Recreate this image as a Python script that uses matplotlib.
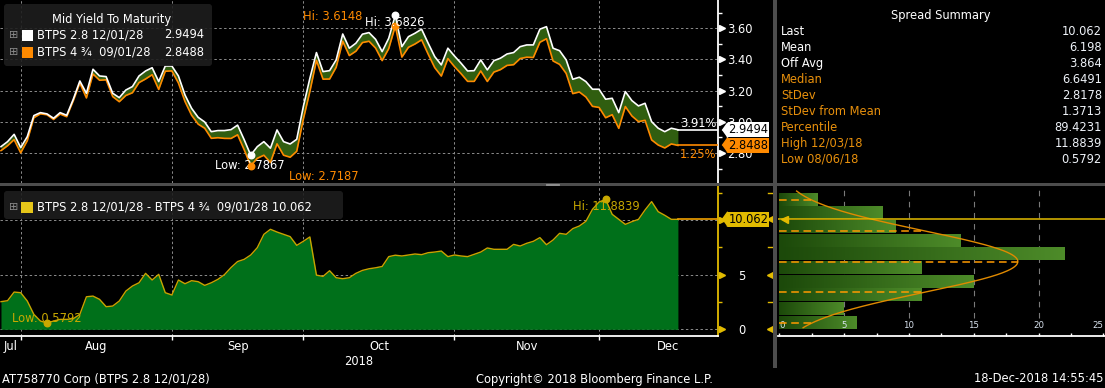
import numpy as np
import pandas as pd
import matplotlib
matplotlib.use("Agg")
import matplotlib.pyplot as plt
from matplotlib.colors import LinearSegmentedColormap
from matplotlib.patches import Rectangle, FancyBboxPatch

plt.rcParams["font.family"] = ["DejaVu Sans"]

W, H = 1105, 388
PT = 72 / 100  # points per pixel at dpi 100

# ---- data ----
dates = pd.bdate_range("2018-07-26", "2018-12-18")

# BTPS 2.8 12/01/28 mid yield
btps_dec28 = [
    2.841, 2.873, 2.920, 2.835, 2.905, 3.040, 3.059, 3.051, 3.023, 3.059,
    3.042, 3.145, 3.262, 3.183, 3.337, 3.294, 3.290, 3.183, 3.155, 3.204,
    3.226, 3.294, 3.326, 3.347, 3.258, 3.358, 3.358, 3.294, 3.172, 3.087,
    3.029, 2.999, 2.937, 2.944, 2.944, 2.950, 2.979, 2.886, 2.7867, 2.841,
    2.873, 2.831, 2.948, 2.873, 2.858, 2.888, 3.097, 3.279, 3.444, 3.322,
    3.328, 3.397, 3.563, 3.472, 3.504, 3.562, 3.572, 3.529, 3.450, 3.536,
    3.6826, 3.482, 3.546, 3.568, 3.594, 3.504, 3.418, 3.365, 3.472, 3.422,
    3.376, 3.326, 3.328, 3.397, 3.333, 3.392, 3.408, 3.435, 3.444, 3.482,
    3.493, 3.493, 3.594, 3.610, 3.472, 3.456, 3.397, 3.273, 3.286, 3.258,
    3.209, 3.209, 3.145, 3.151, 3.059, 3.194, 3.136, 3.102, 3.119, 3.001,
    2.959, 2.937, 2.959, 2.9494,
]

# spread BTPS 2.8 12/01/28 - BTPS 4 3/4 09/01/28, in bp
spread_bp = [
    2.53, 2.62, 3.41, 3.35, 2.59, 1.37, 0.76, 0.5792, 0.76, 0.91,
    0.91, 0.97, 1.37, 2.98, 3.04, 2.74, 2.07, 2.13, 2.59, 3.50,
    3.96, 4.26, 5.12, 4.51, 5.03, 3.35, 3.14, 4.51, 4.17, 4.45,
    4.36, 4.02, 4.26, 4.57, 5.00, 5.65, 6.20, 6.40, 6.80, 7.47,
    8.69, 9.15, 8.90, 8.69, 8.48, 7.68, 8.05, 8.45, 4.96, 4.84,
    5.36, 4.72, 4.63, 4.72, 5.12, 5.39, 5.54, 5.63, 5.75, 6.65,
    6.78, 6.71, 6.80, 6.89, 6.83, 7.01, 7.07, 7.16, 6.65, 6.80,
    6.71, 6.65, 6.86, 7.07, 7.44, 7.32, 7.32, 7.32, 7.77, 7.62,
    7.87, 8.05, 8.39, 7.74, 8.17, 8.78, 8.69, 9.21, 9.45, 9.88,
    10.98, 11.65, 11.8839, 10.52, 10.06, 9.60, 9.85, 10.06, 10.92, 11.68,
    10.76, 10.43, 10.06, 10.062,
]

# BTPS 4 3/4 09/01/28 = first bond minus the spread
btps_sep28 = list(np.round(np.array(btps_dec28) - np.array(spread_bp) / 100, 4))

pct_change = ["3.91%", "1.25%"]

bin_edges = [0, 1.25, 2.5, 3.75, 5, 6.25, 7.5, 8.75, 10, 11.25, 12.5]
bin_counts = [6, 5, 11, 15, 11, 22, 14, 9, 8, 3]
spread_mean = 6.198
spread_sd = 2.8178

summary_labels = ["Last", "Mean", "Off Avg", "Median", "StDev", "StDev from Mean",
                  "Percentile", "High 12/03/18", "Low 08/06/18"]
summary_values = ["10.062", "6.198", "3.864", "6.6491", "2.8178", "1.3713",
                  "89.4231", "11.8839", "0.5792"]

top_ticks = [2.8, 3.0, 3.2, 3.4, 3.6]
top_minor = [2.7, 2.9, 3.1, 3.3, 3.5, 3.7]
bot_ticks = [0, 5, 10]
bot_minor = [2.5, 7.5, 12.5]
hist_ticks = [0, 5, 10, 15, 20, 25]
hist_minor = [2.5, 7.5, 12.5, 17.5, 22.5]
month_names = ["Jul", "Aug", "Sep", "Oct", "Nov", "Dec"]

# ---- colours ----
WHITE = "#ffffff"
ORANGE = "#ff8a00"
BAND = "#305e10"
FILL = "#00701a"
YLINE = "#c9a400"
YELLOW = "#e2bb00"
LBL_OR = "#e8900c"
GRIDC = "#8c8c8c"
SEP = "#4d4d4d"
FS = 8.3

x = np.arange(len(dates))
xmin, xmax = -0.15, 109.1
months = dates.to_period("M")
month_end = [i for i in range(len(dates) - 1) if months[i] != months[i + 1]]
last_month_len = len(pd.bdate_range("2018-12-01", "2018-12-31"))
bounds = [xmin] + month_end + [month_end[-1] + last_month_len]
month_centers = [(a + b) / 2 for a, b in zip(bounds[:-1], bounds[1:])]

fig = plt.figure(figsize=(W / 100, H / 100), dpi=100, facecolor="black")


def px_axes(x0, y0, x1, y1):
    ax = fig.add_axes([x0 / W, 1 - y1 / H, (x1 - x0) / W, (y1 - y0) / H])
    ax.set_facecolor("black")
    for s in ax.spines.values():
        s.set_visible(False)
    return ax


def grid(ax, xs, ys):
    for v in xs:
        ax.axvline(v, color=GRIDC, lw=0.7, dashes=(2.5, 2.5), zorder=1)
    for v in ys:
        ax.axhline(v, color=GRIDC, lw=0.7, dashes=(2.5, 2.5), zorder=1)


def value_tag(ax, ax_w, val, text, fc, tc):
    # arrow shaped value label just right of the y axis
    ax.plot([1 + 9 / ax_w], [val], marker=[(-0.72, 0), (0, 1), (0, -1)], ms=14.6 * PT,
            color=fc, ls="none", transform=ax.get_yaxis_transform(), clip_on=False, zorder=7)
    ax.annotate(text, xy=(1, val), xycoords=("axes fraction", "data"),
                xytext=(10.5 * PT, 0), textcoords="offset points", ha="left", va="center",
                fontsize=FS, color=tc, annotation_clip=False, zorder=7,
                bbox=dict(boxstyle="square,pad=0.08", fc=fc, ec="none"))


def mark(ax, xi, val, label, color, dx, dy, ha):
    ax.plot([xi], [val], "o", ms=6.5 * PT, color=color, zorder=6, clip_on=False)
    ax.annotate(label, xy=(xi, val), xytext=(dx * PT, -dy * PT), textcoords="offset points",
                ha=ha, va="center", fontsize=FS, color=color, zorder=6, annotation_clip=False)


# ---------------- top panel: yields ----------------
ax_top = px_axes(0, 0, 718, 183)
ax_top.set_xlim(xmin, xmax)
ax_top.set_ylim(2.608, 3.781)
grid(ax_top, month_end, top_ticks)
ax_top.fill_between(x, btps_sep28, btps_dec28, color=BAND, lw=0, zorder=2)
ax_top.plot(x, btps_sep28, color=ORANGE, lw=1.2, zorder=3)
ax_top.plot(x, btps_dec28, color=WHITE, lw=1.2, zorder=4)
ax_top.plot([x[-1], xmax], [btps_dec28[-1]] * 2, color=WHITE, lw=1.2, zorder=4)
ax_top.plot([x[-1], xmax], [btps_sep28[-1]] * 2, color=ORANGE, lw=1.2, zorder=3)
ax_top.spines["right"].set_visible(True)
ax_top.spines["right"].set_color(WHITE)
ax_top.spines["right"].set_linewidth(1.3)
ax_top.set_xticks([])
ax_top.yaxis.tick_right()
ax_top.set_yticks(top_ticks)
ax_top.set_yticklabels([f"{t:.2f}" for t in top_ticks])
ax_top.set_yticks(top_minor, minor=True)
ax_top.tick_params(axis="y", which="major", length=0, pad=9 * PT, labelcolor=WHITE, labelsize=FS)
ax_top.tick_params(axis="y", which="minor", length=4 * PT, width=1, color=WHITE)
ax_top.plot([1 + 4 / 718] * len(top_ticks), top_ticks, ">", ms=6 * PT, color=WHITE,
            transform=ax_top.get_yaxis_transform(), clip_on=False)

i_hi = int(np.argmax(btps_dec28))
i_lo = int(np.argmin(btps_dec28))
mark(ax_top, i_hi, btps_sep28[i_hi], f"Hi: {max(btps_sep28):.4f}", ORANGE, -33, -9, "right")
mark(ax_top, i_hi, btps_dec28[i_hi], f"Hi: {max(btps_dec28):.4f}", WHITE, -1, 7.5, "center")
mark(ax_top, i_lo, btps_dec28[i_lo], f"Low: {min(btps_dec28):.4f}", WHITE, -1, 10.5, "center")
mark(ax_top, i_lo, btps_sep28[i_lo], f"Low: {min(btps_sep28):.4f}", ORANGE, 38, 11, "left")

ax_top.annotate(pct_change[0], xy=(1, btps_dec28[-1]), xycoords=("axes fraction", "data"),
                xytext=(-2 * PT, 6.5 * PT), textcoords="offset points", ha="right", va="center",
                fontsize=FS, color=WHITE, annotation_clip=False, zorder=6)
ax_top.annotate(pct_change[1], xy=(1, btps_sep28[-1]), xycoords=("axes fraction", "data"),
                xytext=(-2 * PT, -9 * PT), textcoords="offset points", ha="right", va="center",
                fontsize=FS, color=ORANGE, annotation_clip=False, zorder=6)
value_tag(ax_top, 718, btps_dec28[-1], f"{btps_dec28[-1]:.4f}", WHITE, "black")
value_tag(ax_top, 718, btps_sep28[-1], f"{btps_sep28[-1]:.4f}", ORANGE, "black")

# ---------------- bottom panel: spread ----------------
ax_bot = px_axes(0, 186, 718, 336)
ax_bot.set_xlim(xmin, xmax)
ax_bot.set_ylim(-0.61, 13.11)
grid(ax_bot, month_end, bot_ticks)
ax_bot.fill_between(x, 0, spread_bp, color=FILL, lw=0, zorder=2)
ax_bot.plot(x, spread_bp, color=YLINE, lw=1.0, zorder=3)
ax_bot.plot([x[-1], xmax], [spread_bp[-1]] * 2, color="#f0a000", lw=1.2, zorder=3)
ax_bot.spines["bottom"].set_visible(True)
ax_bot.spines["bottom"].set_color(WHITE)
ax_bot.spines["bottom"].set_linewidth(1.3)
ax_bot.spines["right"].set_visible(True)
ax_bot.spines["right"].set_color(YELLOW)
ax_bot.spines["right"].set_linewidth(1.3)
ax_bot.set_xticks(month_end)
ax_bot.set_xticklabels([])
ax_bot.set_xticks(month_centers, minor=True)
ax_bot.set_xticklabels(month_names, minor=True)
ax_bot.tick_params(axis="x", which="major", length=4 * PT, width=1, color=WHITE)
ax_bot.tick_params(axis="x", which="minor", length=0, pad=4 * PT, labelcolor=WHITE, labelsize=FS)
ax_bot.yaxis.tick_right()
ax_bot.set_yticks(bot_ticks)
# the "10" label sits under the last-value tag, as on the screen
ax_bot.set_yticklabels([str(t) if t < 10 else "" for t in bot_ticks])
ax_bot.set_yticks(bot_minor, minor=True)
ax_bot.tick_params(axis="y", which="major", length=0, pad=20 * PT, labelcolor=WHITE, labelsize=FS)
ax_bot.tick_params(axis="y", which="minor", length=4 * PT, width=1, color=YELLOW)
ax_bot.plot([1 + 4 / 718] * len(bot_ticks), bot_ticks, ">", ms=6 * PT, color=YELLOW,
            transform=ax_bot.get_yaxis_transform(), clip_on=False)

s_lo = int(np.argmin(spread_bp))
s_hi = int(np.argmax(spread_bp))
mark(ax_bot, s_lo, spread_bp[s_lo], f"Low: {min(spread_bp):.4f}", "#c8a800", 0, -4.5, "center")
mark(ax_bot, s_hi, spread_bp[s_hi], f"Hi: {max(spread_bp):.4f}", "#c8a800", 1, 7.3, "center")
value_tag(ax_bot, 718, spread_bp[-1], f"{spread_bp[-1]:.3f}", YELLOW, "black")

# ---------------- histogram of the spread ----------------
ax_h = px_axes(778, 186, 1105, 336)
cmap = LinearSegmentedColormap.from_list("bars", ["#1c490a", "#4d8b29"])
grad = np.linspace(0, 1, 64).reshape(1, -1)
for lo, hi, c in zip(bin_edges[:-1], bin_edges[1:], bin_counts):
    ax_h.imshow(grad, extent=[0, c, lo + 0.05, hi - 0.05], cmap=cmap, aspect="auto",
                interpolation="bilinear", zorder=2)
ax_h.set_xlim(-0.1, 25.13)
ax_h.set_ylim(-0.61, 13.11)
ax_h.vlines(hist_ticks[1:-1], 1.0, 13.11, color="#7a7a7a", lw=0.8,
            linestyles=[(0, (5, 5))], zorder=1)

bw = bin_edges[1] - bin_edges[0]
yy = np.linspace(0.15, 12.65, 200)
scale = sum(bin_counts) * bw / (spread_sd * np.sqrt(2 * np.pi))
ax_h.plot(scale * np.exp(-0.5 * ((yy - spread_mean) / spread_sd) ** 2), yy,
          color="#e08a00", lw=1.0, zorder=4)
for k in [-2, -1, 0, 1, 2]:
    yv = spread_mean + k * spread_sd
    ax_h.plot([0, scale * np.exp(-0.5 * k * k)], [yv, yv], color="#ff9a00", lw=1.1,
              dashes=(5, 3), zorder=4)
ax_h.axhline(spread_bp[-1], color=YELLOW, lw=1.1, zorder=5)
ax_h.plot([0.35], [spread_bp[-1]], "<", ms=7 * PT, color=YELLOW, zorder=5)

ax_h.spines["bottom"].set_visible(True)
ax_h.spines["bottom"].set_color(WHITE)
ax_h.spines["bottom"].set_linewidth(1.3)
ax_h.set_yticks([])
ax_h.set_xticks(hist_ticks)
ax_h.set_xticks(hist_minor, minor=True)
ax_h.set_xticklabels([])
ax_h.tick_params(axis="x", which="both", direction="in", length=3 * PT, width=1, color=WHITE)
for t in hist_ticks:
    ha = "left" if t == hist_ticks[0] else ("right" if t == hist_ticks[-1] else "center")
    ax_h.annotate(str(t), xy=(t, 0), xycoords=("data", "axes fraction"),
                  xytext=(0, 10.5 * PT), textcoords="offset points", ha=ha, va="center",
                  fontsize=6.2, color="#d8e2ee", annotation_clip=False)
# mirrored yellow ticks on the left edge of the histogram
ax_h.plot([-8 / 327] * 3, [0, 5, spread_bp[-1]], "<", ms=6 * PT, color=YELLOW,
          transform=ax_h.get_yaxis_transform(), clip_on=False)
for t in bot_minor:
    ax_h.plot([-10 / 327, -5 / 327], [t, t], color=YELLOW, lw=1,
              transform=ax_h.get_yaxis_transform(), clip_on=False)

# ---------------- overlay: legends, summary, footer ----------------
ov = fig.add_axes([0, 0, 1, 1], zorder=10)
ov.set_xlim(0, W)
ov.set_ylim(H, 0)
ov.axis("off")
ov.patch.set_alpha(0)

ov.add_patch(Rectangle((0, 183), W, 3, fc=SEP, ec="none"))
ov.add_patch(Rectangle((773, 0), 4, 368, fc=SEP, ec="none"))
ov.plot([546, 559], [183.8, 183.8], color="#9a9a9a", lw=0.6)
ov.plot([546, 559], [185.3, 185.3], color="#9a9a9a", lw=0.6)

# yield legend
ov.add_patch(FancyBboxPatch((4, 4), 208, 62, boxstyle="round,pad=0,rounding_size=3",
                            fc="#1e1e1e", ec="none", alpha=0.9))
ov.text(112, 20, "Mid Yield To Maturity", ha="center", va="center", fontsize=FS, color=WHITE)
for yrow, name, val, col in [(35, "BTPS 2.8 12/01/28", btps_dec28[-1], WHITE),
                             (52, "BTPS 4 ¾  09/01/28", btps_sep28[-1], ORANGE)]:
    ov.text(14, yrow, "⊞", ha="center", va="center", fontsize=8, color="#8a8a8a")
    ov.add_patch(Rectangle((22, yrow - 5.5), 11, 11, fc=col, ec="none"))
    ov.text(37, yrow, name, ha="left", va="center", fontsize=FS, color=WHITE)
    ov.text(204, yrow, f"{val:.4f}", ha="right", va="center", fontsize=FS, color=WHITE)

# spread legend
ov.add_patch(FancyBboxPatch((4, 191), 339, 28, boxstyle="round,pad=0,rounding_size=3",
                            fc="#1e1e1e", ec="none", alpha=0.9))
ov.text(14, 207.5, "⊞", ha="center", va="center", fontsize=8, color="#8a8a8a")
ov.add_patch(Rectangle((21, 202), 12, 11, fc="#e6c619", ec="none"))
ov.text(37, 207.5, f"BTPS 2.8 12/01/28 - BTPS 4 ¾  09/01/28 {spread_bp[-1]:.3f}",
        ha="left", va="center", fontsize=FS, color=WHITE)

# spread summary
ov.text(941, 15, "Spread Summary", ha="center", va="center", fontsize=FS, color=WHITE)
for k, (lab, val) in enumerate(zip(summary_labels, summary_values)):
    yrow = 31.7 + 15.95 * k
    ov.text(781, yrow, lab, ha="left", va="center", fontsize=FS,
            color=WHITE if k < 3 else LBL_OR)
    ov.text(1102, yrow, val, ha="right", va="center", fontsize=FS, color="#eef2f8")

ov.text(359, 361.7, "2018", ha="center", va="center", fontsize=FS, color=WHITE)
ov.text(2, 379, "AT758770 Corp (BTPS 2.8 12/01/28)", ha="left", va="center", fontsize=FS, color=WHITE)
ov.text(594, 379, "Copyright© 2018 Bloomberg Finance L.P.", ha="center", va="center",
        fontsize=FS, color=WHITE)
ov.text(1103, 379, "18-Dec-2018 14:55:45", ha="right", va="center", fontsize=FS, color=WHITE)

fig.savefig("out.png", dpi=100, facecolor="black")
